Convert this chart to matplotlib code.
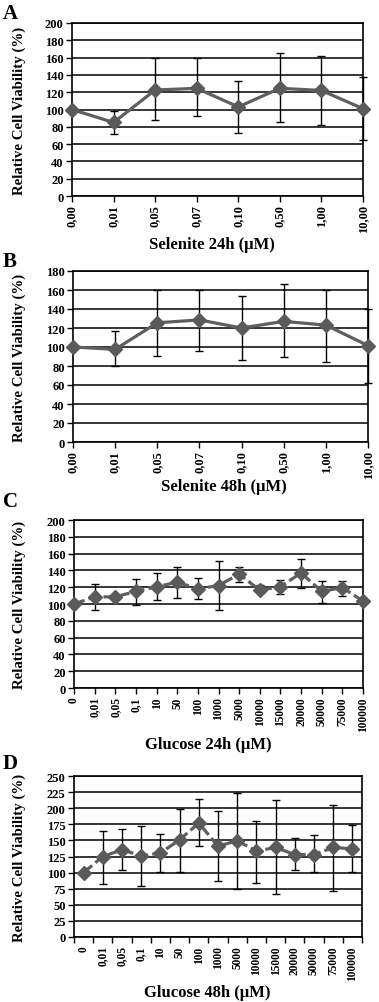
import numpy as np
import matplotlib
matplotlib.use("Agg")
import matplotlib.pyplot as plt

plt.rcParams['font.family'] = ['Liberation Serif', 'DejaVu Serif']
plt.rcParams['font.weight'] = 'bold'

#### DATA ####
sel_labels = ['0,00', '0,01', '0,05', '0,07', '0,10', '0,50', '1,00', '10,00']
glu_labels = ['0', '0,01', '0,05', '0,1', '10', '50', '100', '1000', '5000',
              '10000', '15000', '20000', '50000', '75000', '100000']

# selenite 24h
sel24 = [100, 85, 122.5, 124.5, 103, 124.5, 122, 101]
sel24_lo = [100, 71.5, 88, 92.5, 72.5, 85, 82, 65]
sel24_hi = [100, 98.5, 159, 159, 133, 165, 162, 138]

# selenite 48h
sel48 = [100, 97.5, 125.5, 128.5, 120, 127, 123, 101.5]
sel48_lo = [100, 79.5, 90.5, 96, 86, 89.5, 84, 62.5]
sel48_hi = [100, 117, 160, 159.5, 153.5, 166, 160, 139.5]

# glucose 24h
glu24 = [100, 108.5, 108.5, 115, 120.5, 126, 118, 122, 135.5, 116.5, 120.5, 137, 115, 119.5, 103.5]
glu24_lo = [100, 93, 108.5, 98.5, 104.5, 107, 105.5, 93, 126, 113, 112.5, 119.5, 101.5, 110, 103.5]
glu24_hi = [100, 124, 108.5, 130, 136.5, 144.5, 130.5, 151, 144.5, 122.5, 128.5, 154, 127.5, 127.5, 103.5]

# glucose 48h
glu48 = [100, 125, 135.5, 126, 130.5, 151, 177, 141, 149.5, 133.5, 139, 128, 128, 139, 137]
glu48_lo = [100, 83, 104, 79.5, 100.5, 101.5, 141, 87.5, 75, 84, 67.5, 104, 100.5, 71, 101.5]
glu48_hi = [100, 165, 167, 173, 160, 199, 214, 196, 223, 179.5, 213, 154.5, 159, 204.5, 174]

W, H = 379, 1003
fig = plt.figure(figsize=(W / 100, H / 100), dpi=100)


def panel(box, labels, vals, lo, hi, ymax, ystep, xlabel, letter, letter_y, xlabel_xy,
          dashed=False, between=False, tick_fs=9):
    l, r, t, b = box
    ax = fig.add_axes([l / W, 1 - b / H, (r - l) / W, (b - t) / H])
    n = len(labels)
    x = np.arange(n)
    vals = np.array(vals)
    err = [vals - np.array(lo), np.array(hi) - vals]
    ax.errorbar(x, vals, yerr=err, fmt='none', ecolor='black', elinewidth=1.0,
                capsize=3, capthick=1.0, zorder=3, clip_on=False)
    ax.plot(x, vals, color='#5f5f5f', lw=2.3, ls=(0, (3.5, 1.3)) if dashed else '-',
            marker='D', ms=7, mfc='#5a5a5a', mec='#5a5a5a', zorder=4, clip_on=False)
    ax.set_ylim(0, ymax)
    ax.set_yticks(np.arange(0, ymax + 1, ystep))
    ax.yaxis.grid(True, color='black', lw=1.1)
    ax.set_axisbelow(True)
    if between:
        ax.set_xlim(-0.5, n - 0.5)
        ax.set_xticks(x)
        ax.set_xticks(np.arange(-0.5, n), minor=True)
        ax.tick_params(axis='x', which='major', length=0, pad=6)
        ax.tick_params(axis='x', which='minor', length=4, width=1, direction='out')
    else:
        ax.set_xlim(0, n - 1)
        ax.set_xticks(x)
        ax.tick_params(axis='x', length=4, width=1, direction='out', pad=2)
    ax.set_xticklabels(labels, rotation=90, fontsize=tick_fs, fontweight='bold')
    ax.tick_params(axis='y', length=4, width=1, direction='out', pad=2, labelsize=9)
    for s in ax.spines.values():
        s.set_linewidth(1.2)
        s.set_color('black')
    fig.text(xlabel_xy[0] / W, 1 - xlabel_xy[1] / H, xlabel, ha='center', va='center',
             fontsize=12, fontweight='bold')
    fig.text(19 / W, 1 - (t + b) / 2 / H, 'Relative Cell Viability (%)', rotation=90,
             ha='center', va='center', fontsize=10.7, fontweight='bold')
    fig.text(3 / W, 1 - letter_y / H, letter, ha='left', va='center', fontsize=15,
             fontweight='bold')
    return ax


panel((72, 363, 24, 197), sel_labels, sel24, sel24_lo, sel24_hi, 200, 20,
      'Selenite 24h (µM)', 'A', 14, (212, 245))
panel((73, 368, 272, 443), sel_labels, sel48, sel48_lo, sel48_hi, 180, 20,
      'Selenite 48h (µM)', 'B', 262, (224, 487))
panel((74, 363, 521, 689), glu_labels, glu24, glu24_lo, glu24_hi, 200, 20,
      'Glucose 24h (µM)', 'C', 502, (208, 745), dashed=True, tick_fs=8.3)
panel((74, 362, 777, 938), glu_labels, glu48, glu48_lo, glu48_hi, 250, 25,
      'Glucose 48h (µM)', 'D', 764, (207, 993), dashed=True, between=True, tick_fs=8.3)

fig.savefig('out.png', dpi=100)
